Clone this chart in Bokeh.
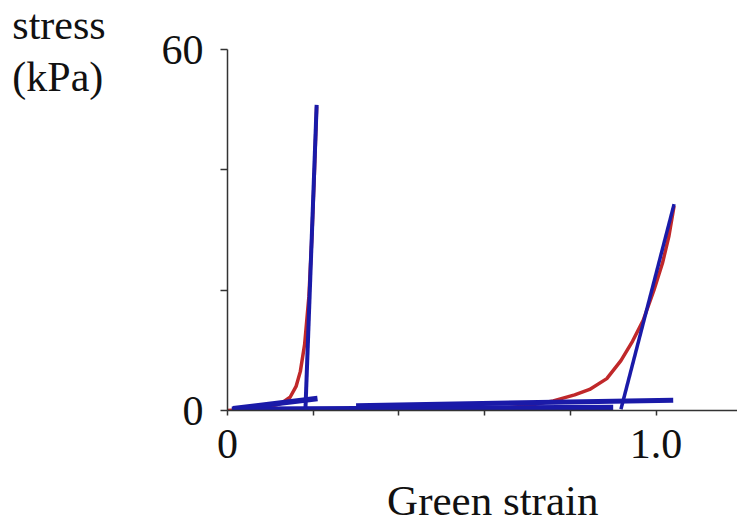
from bokeh.plotting import figure
from bokeh.models import FixedTicker
from bokeh.core.properties import value
from bokeh.embed import file_html
from bokeh.resources import INLINE

# Data
red1_x = [0.0, 0.05, 0.097, 0.126, 0.146, 0.16, 0.17, 0.18, 0.19, 0.197, 0.203, 0.208]
red1_y = [0.0, 0.2, 0.6, 1.2, 2.2, 4.0, 6.5, 11.0, 19.0, 29.0, 40.0, 50.5]

red2_x = [0.53, 0.63, 0.70, 0.76, 0.81, 0.845, 0.885, 0.918, 0.945, 0.97, 0.995, 1.015, 1.03, 1.042]
red2_y = [0.0, 0.3, 0.8, 1.6, 2.6, 3.5, 5.3, 8.3, 11.5, 15.0, 20.0, 24.5, 29.0, 34.0]

base_x = [0.01, 0.9]
base_y = [0.2, 0.5]
toe1_x = [0.013, 0.21]
toe1_y = [0.3, 2.0]
steep1_x = [0.182, 0.208]
steep1_y = [0.5, 50.8]
toe2_x = [0.3, 1.04]
toe2_y = [0.8, 1.7]
steep2_x = [0.918, 1.042]
steep2_y = [0.2, 34.3]

y_ticks = [0, 20, 40, 60]
y_tick_labels = {0: "0", 20: "", 40: "", 60: "60"}
x_ticks = [0, 0.2, 0.4, 0.6, 0.8, 1.0]
x_tick_labels = {0: "0", 0.2: "", 0.4: "", 0.6: "", 0.8: "", 1: "1.0"}

y_title_lines = ["stress", "(kPa)"]
x_title = "Green strain"

FONT = "Liberation Serif"
BLUE = "#1a1aa8"
RED = "#c0282a"
TEXT = "#111111"

p = figure(width=737, height=526, output_backend="svg", toolbar_location=None,
           x_range=(0, 1.19), y_range=(0, 60),
           min_border_left=227, min_border_right=0, min_border_top=49, min_border_bottom=116)
p.outline_line_color = None
p.grid.visible = False

p.line(red1_x, red1_y, line_color=RED, line_width=3.5)
p.line(red2_x, red2_y, line_color=RED, line_width=3.5)
p.line(base_x, base_y, line_color=BLUE, line_width=5.5)
p.line(toe1_x, toe1_y, line_color=BLUE, line_width=5.5)
p.line(steep1_x, steep1_y, line_color=BLUE, line_width=4)
p.line(toe2_x, toe2_y, line_color=BLUE, line_width=5)
p.line(steep2_x, steep2_y, line_color=BLUE, line_width=3.5)

for ax in (p.xaxis[0], p.yaxis[0]):
    ax.axis_line_color = "#333333"
    ax.axis_line_width = 1.5
    ax.major_tick_line_color = "#333333"
    ax.major_tick_line_width = 1.5
    ax.major_tick_in = 0
    ax.minor_tick_line_color = None
    ax.major_label_text_font = FONT
    ax.major_label_text_font_size = "42px"
    ax.major_label_text_color = TEXT

p.yaxis[0].ticker = FixedTicker(ticks=y_ticks)
p.yaxis[0].major_label_overrides = y_tick_labels
p.yaxis[0].major_tick_out = 7
p.yaxis[0].major_label_standoff = 17

p.xaxis[0].ticker = FixedTicker(ticks=x_ticks)
p.xaxis[0].major_label_overrides = x_tick_labels
p.xaxis[0].major_tick_out = 5
p.xaxis[0].major_label_standoff = 14

# axis titles as text placed outside the frame (overlay level is not clipped)
t1 = p.text(x=[-0.502, -0.502], y=[64.0, 55.4], text=y_title_lines,
            text_font=value(FONT), text_font_size="42px", text_color=TEXT,
            text_align="left", text_baseline="alphabetic")
t1.level = "overlay"
t2 = p.text(x=[0.619], y=[-14.9], text=[x_title],
            text_font=value(FONT), text_font_size="43px", text_color=TEXT,
            text_align="center", text_baseline="alphabetic")
t2.level = "overlay"

open("out.html", "w").write(file_html(p, INLINE))
